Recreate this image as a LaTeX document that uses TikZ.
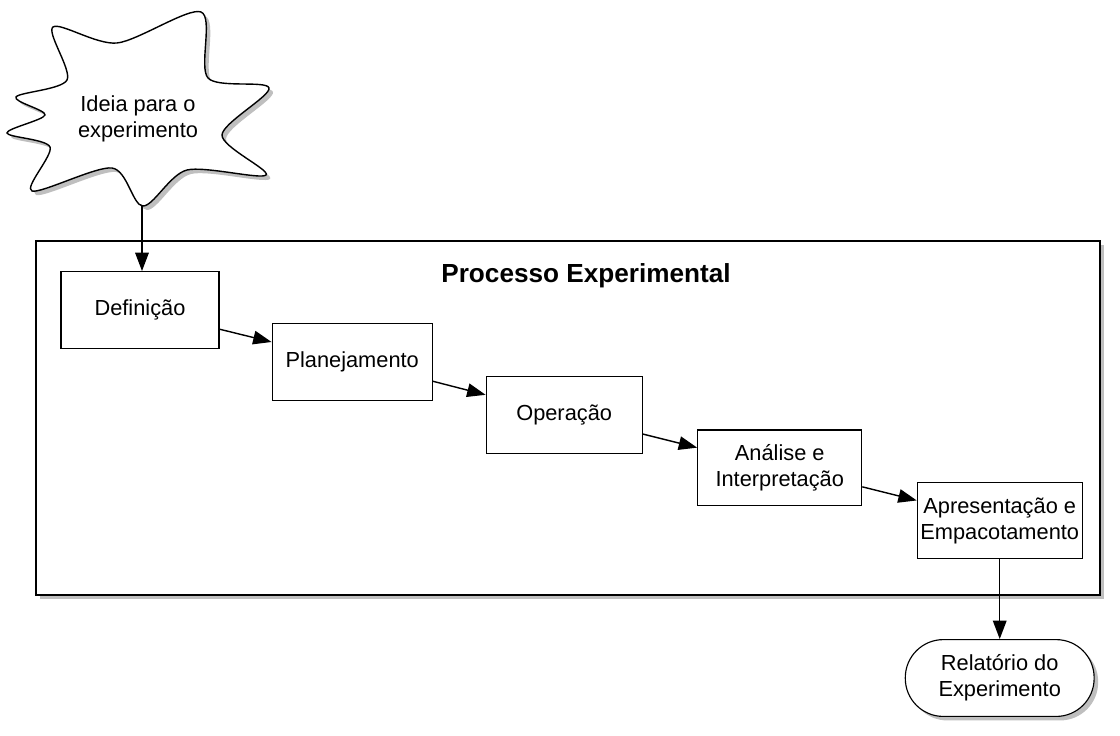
\documentclass[tikz,border=0pt]{standalone}
\usepackage{fontspec}
\setmainfont{Liberation Sans}
\usetikzlibrary{positioning,arrows.meta,shadows}
\tikzset{
  line/.style={-{Triangle[length=0.46cm,width=0.34cm]}, line width=1.0pt, draw=black},
  softshadow/.style={drop shadow={shadow xshift=0.1cm, shadow yshift=-0.1cm, opacity=0.25, fill=black}}
}

\begin{document}
\begin{tikzpicture}[
  x=0.025cm, y=-0.025cm,
  font=\fontsize{15.5}{18.5}\selectfont,
  frame/.style={draw=black, fill=white, line width=1.1pt, minimum width=26.6cm, minimum height=8.85cm, softshadow},
  heading/.style={font=\fontsize{18.6}{22}\selectfont\bfseries},
  box/.style={draw=black, fill=white, line width=0.8pt, minimum width=3.95cm, minimum height=1.92cm, align=center, inner sep=1pt},
  report/.style={box, rounded corners=0.95cm, minimum width=4.72cm, softshadow},
  burst/.style={draw=black, fill=white, line width=1.0pt, softshadow}
]
\useasboundingbox (0,0) rectangle (1120,736);

% idea burst
\draw[burst] plot[smooth cycle, tension=0.5] coordinates {
  (53,27) (117,43) (201,12) (208,78) (269,88) (222,135) (266,175) (187,170)
  (143,206) (112,168) (32,191) (50,147) (7,133) (45,115) (16,97) (67,80)};
\node[align=center] (idea) at (138,119) {Ideia para o\\experimento};
\coordinate (ideaTip) at (142,205);

% experimental process
\node[frame] (proc) at (568,418) {};
\node[heading, below=0.45cm of proc.north, xshift=0.45cm] (title) {Processo Experimental};

\node[box] (def) at (140,310) {Defini\c{c}\~ao};
\node[box, minimum width=4.0cm, right=1.3cm of def, yshift=-1.3cm] (plan) {Planejamento};
\node[box, minimum width=3.9cm, right=1.32cm of plan, yshift=-1.32cm] (oper) {Opera\c{c}\~ao};
\node[box, minimum width=4.1cm, minimum height=1.88cm, right=1.36cm of oper, yshift=-1.32cm] (anal) {An\'alise e\\Interpreta\c{c}\~ao};
\node[box, minimum width=4.12cm, minimum height=1.9cm, right=1.36cm of anal, yshift=-1.32cm] (apre) {Apresenta\c{c}\~ao e\\Empacotamento};

\node[report, below=2.0cm of apre] (rel) {Relat\'orio do\\Experimento};

\draw[line] (ideaTip) -- (ideaTip |- def.north);
\draw[line] ([yshift=-0.48cm]def.east) -- ([yshift=0.5cm]plan.west);
\draw[line] ([yshift=-0.48cm]plan.east) -- ([yshift=0.5cm]oper.west);
\draw[line] ([yshift=-0.48cm]oper.east) -- ([yshift=0.5cm]anal.west);
\draw[line] ([yshift=-0.48cm]anal.east) -- ([yshift=0.5cm]apre.west);
\draw[line] (apre.south) -- (rel.north);
\end{tikzpicture}
\end{document}
